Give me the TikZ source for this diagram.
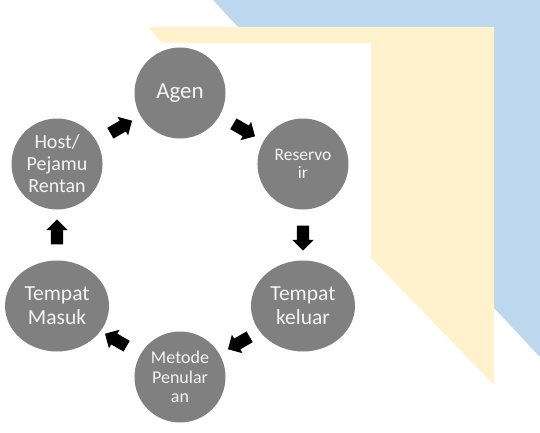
\documentclass[tikz,border=0pt]{standalone}
\usepackage{fontspec}
\setmainfont{Carlito}
\usetikzlibrary{calc,shapes.geometric,shapes.arrows}
\definecolor{cyclegray}{RGB}{128,128,128}
\definecolor{cycletext}{RGB}{244,244,244}
\definecolor{bgyellow}{RGB}{255,242,204}
\definecolor{bgblue}{RGB}{189,215,238}

\begin{document}
\begin{tikzpicture}[x=1pt, y=1pt,
      stage/.style={circle, fill=cyclegray, text=cycletext, minimum size=91pt, inner sep=0pt, align=center},
      widestage/.style={ellipse, fill=cyclegray, text=cycletext, minimum width=104pt, minimum height=91pt, inner sep=0pt, align=center},
      blockarrow/.style={single arrow, fill=black, minimum height=25pt, inner xsep=0pt, inner ysep=6pt, single arrow head extend=4.5pt, single arrow head indent=0pt}
    ]
      \useasboundingbox (0,0) rectangle (540,432);

      % Background bands
      \fill[bgblue] (213,432) -- (540,432) -- (540,75) -- (494,124) -- (494,405) -- (238,405) -- cycle;
      \fill[bgyellow] (148,405) -- (494,405) -- (494,47) -- (371,174) -- (371,389) -- (162,389) -- cycle;

      % Cycle stages
      \coordinate (hub) at (180,197);
      \node[stage, font=\fontsize{23}{26}\selectfont] (agen) at ($(hub)+(90:142)$) {Agen};
      \node[stage, font=\fontsize{17.5}{18.5}\selectfont] (reservoir) at ($(hub)+(30:142)$) {Reservo\\ir};
      \node[widestage, font=\fontsize{21.5}{24}\selectfont] (keluar) at ($(hub)+(-30:142)$) {Tempat\\keluar};
      \node[stage, font=\fontsize{18}{19.5}\selectfont] (metode) at ($(hub)+(-90:142)$) {Metode\\Penular\\an};
      \node[widestage, font=\fontsize{21.5}{24}\selectfont] (masuk) at ($(hub)+(210:142)$) {Tempat\\Masuk};
      \node[stage, font=\fontsize{20}{22}\selectfont] (host) at ($(hub)+(150:142)$) {Host/\\Pejamu\\Rentan};

      % Block arrows between stages
      \node[blockarrow, rotate=30] (hostagen) at ($(host)!0.5!(agen)$) {};
      \node[blockarrow, rotate=-30] (agenres) at ($(agen)!0.5!(reservoir)$) {};
      \node[blockarrow, rotate=-90] (reskeluar) at ($(reservoir)!0.5!(keluar)$) {};
      \node[blockarrow, rotate=-150] (keluarmetode) at ($(keluar)!0.5!(metode)$) {};
      \node[blockarrow, rotate=150] (metodemasuk) at ($(metode)!0.5!(masuk)$) {};
      \node[blockarrow, rotate=90] (masukhost) at ($(masuk)!0.5!(host)$) {};
    \end{tikzpicture}
\end{document}
